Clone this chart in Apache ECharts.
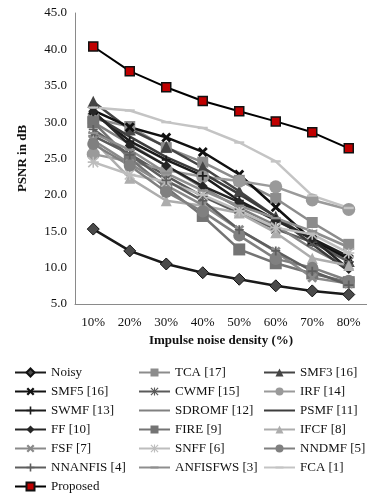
<!DOCTYPE html>
<html>
<head>
<meta charset="utf-8">
<script src="https://cdn.jsdelivr.net/npm/echarts@6/dist/echarts.min.js"></script>
<style>
  html, body { margin: 0; padding: 0; background: #fff; }
  #chart { width: 367px; height: 497px; }
</style>
</head>
<body>
<div id="chart"></div>
<script>
// noise density categories
const densities = ['10%', '20%', '30%', '40%', '50%', '60%', '70%', '80%'];

// PSNR (dB) per method
const noisy    = [15.3, 12.3, 10.5, 9.3, 8.4, 7.5, 6.8, 6.3];
const tca      = [30.5, 29.4, 26.5, 24.5, 22.0, 19.5, 16.2, 13.2];
const smf3     = [32.8, 29.0, 26.6, 23.8, 20.5, 17.0, 13.8, 10.9];
const smf5     = [31.6, 29.3, 27.9, 25.9, 22.8, 18.3, 13.8, 11.2];
const cwmf     = [28.1, 25.6, 22.6, 19.8, 17.5, 15.3, 13.5, 10.8];
const irf      = [25.6, 24.6, 23.4, 22.5, 21.9, 21.1, 19.3, 18.0];
const swmf     = [31.3, 27.4, 24.8, 22.6, 19.2, 16.6, 14.0, 11.5];
const sdromf   = [30.0, 27.0, 24.0, 21.0, 18.2, 15.8, 12.6, 10.0];
const psmf     = [31.0, 28.0, 25.2, 23.0, 20.1, 17.0, 13.2, 9.5];
const ff       = [31.5, 26.8, 24.0, 21.2, 19.0, 16.5, 14.0, 9.8];
const fire     = [30.0, 25.0, 21.0, 17.1, 12.5, 10.6, 9.2, 8.0];
const ifcf     = [27.5, 22.3, 19.2, 18.5, 17.5, 14.8, 11.3, 10.3];
const fsf      = [27.5, 24.3, 21.3, 18.6, 15.2, 12.2, 8.6, 7.8];
const snff     = [24.5, 22.8, 21.8, 20.0, 17.8, 15.5, 14.6, 12.0];
const nndmf    = [27.0, 24.0, 20.4, 17.7, 14.4, 11.2, 10.0, 8.2];
const nnanfis  = [29.0, 25.5, 22.0, 19.2, 15.2, 12.3, 9.5, 7.6];
const anfisfws = [28.5, 26.2, 23.0, 20.6, 18.5, 16.8, 15.0, 12.8];
const fca      = [32.0, 31.6, 30.0, 29.2, 27.2, 24.6, 19.9, 18.2];
const proposed = [40.4, 37.0, 34.8, 32.9, 31.5, 30.1, 28.6, 26.4];

// marker shapes
const X_MARK = 'path://M2,0 L5,3 L8,0 L10,2 L7,5 L10,8 L8,10 L5,7 L2,10 L0,8 L3,5 L0,2 Z';
const PLUS = 'path://M4,0 H6 V4 H10 V6 H6 V10 H4 V6 H0 V4 H4 Z';
const STAR = 'path://M4.3,0 H5.7 V4.3 H10 V5.7 H5.7 V10 H4.3 V5.7 H0 V4.3 H4.3 Z M1,0 L5,4 L9,0 L10,1 L6,5 L10,9 L9,10 L5,6 L1,10 L0,9 L4,5 L0,1 Z';
// the empty moveTo points keep the box square so the dash stays flat (legend too)
const DASH = 'path://M0,0 L0,0 M0,3.8 H10 V6.2 H0 Z M10,10 L10,10';
// empty box -> no marker, also keeps the legend icon a plain line
const NO_MARK = 'path://M0,0 L0,0 M10,10 L10,10';

const serif = 'Liberation Serif';

function line(name, data, color, symbol, size, extra) {
  const s = {
    name: name,
    type: 'line',
    data: data,
    symbol: symbol,
    symbolSize: size,
    lineStyle: { color: color, width: 2.5 },
    itemStyle: { color: color },
    z: 2
  };
  return Object.assign(s, extra || {});
}

const series = [
  line('Noisy', noisy, '#1a1a1a', 'diamond', 12, { itemStyle: { color: '#4a4a4a', borderColor: '#111', borderWidth: 1 } }),
  line('TCA [17]', tca, '#8c8c8c', 'rect', 11),
  line('SMF3 [16]', smf3, '#454545', 'triangle', 12),
  line('SMF5 [16]', smf5, '#111111', X_MARK, 10),
  line('CWMF [15]', cwmf, '#5a5a5a', STAR, 10),
  line('IRF [14]', irf, '#9a9a9a', 'circle', 13),
  line('SWMF [13]', swmf, '#1c1c1c', PLUS, 9),
  line('SDROMF [12]', sdromf, '#808080', NO_MARK, 8),
  line('PSMF [11]', psmf, '#3c3c3c', NO_MARK, 8),
  line('FF [10]', ff, '#262626', 'diamond', 10),
  line('FIRE [9]', fire, '#747474', 'rect', 12),
  line('IFCF [8]', ifcf, '#adadad', 'triangle', 11),
  line('FSF [7]', fsf, '#8a8a8a', X_MARK, 10),
  line('SNFF [6]', snff, '#bdbdbd', STAR, 11),
  line('NNDMF [5]', nndmf, '#808080', 'circle', 12),
  line('NNANFIS [4]', nnanfis, '#5e5e5e', PLUS, 9),
  line('ANFISFWS [3]', anfisfws, '#8e8e8e', DASH, 10),
  line('FCA [1]', fca, '#c4c4c4', DASH, 10),
  line('Proposed', proposed, '#000000', 'rect', 9, {
    lineStyle: { color: '#000', width: 2 },
    itemStyle: { color: '#c00000', borderColor: '#111', borderWidth: 1.5 },
    z: 5
  })
];

function legendCol(names, left) {
  return {
    data: names,
    orient: 'vertical',
    left: left,
    top: 366,
    itemWidth: 31,
    itemHeight: 10,
    itemGap: 6,
    padding: 0,
    textStyle: { fontFamily: serif, fontSize: 13, color: '#111' }
  };
}

const chart = echarts.init(document.getElementById('chart'), null, { renderer: 'canvas' });

chart.setOption({
  animation: false,
  backgroundColor: '#fff',
  grid: { left: 75, top: 13, width: 296, height: 291 },
  xAxis: {
    type: 'category',
    data: densities,
    boundaryGap: true,
    name: 'Impulse noise density (%)',
    nameLocation: 'middle',
    nameGap: 29,
    nameTextStyle: { fontFamily: serif, fontSize: 13, fontWeight: 'bold', color: '#111' },
    axisLine: { lineStyle: { color: '#8a8a8a', width: 1 } },
    axisTick: { show: false },
    axisLabel: { fontFamily: serif, fontSize: 13, color: '#111', margin: 12 }
  },
  yAxis: {
    type: 'value',
    min: 5,
    max: 45,
    interval: 5,
    name: 'PSNR in dB',
    nameLocation: 'middle',
    nameGap: 46,
    nameTextStyle: { fontFamily: serif, fontSize: 13, fontWeight: 'bold', color: '#111' },
    axisLine: { show: true, lineStyle: { color: '#8a8a8a', width: 1 } },
    axisTick: { show: false },
    splitLine: { show: false },
    axisLabel: {
      fontFamily: serif, fontSize: 13, color: '#111', margin: 8,
      formatter: function (v) { return v.toFixed(1); }
    }
  },
  legend: [
    legendCol(['Noisy', 'SMF5 [16]', 'SWMF [13]', 'FF [10]', 'FSF [7]', 'NNANFIS [4]', 'Proposed'], 14),
    legendCol(['TCA [17]', 'CWMF [15]', 'SDROMF [12]', 'FIRE [9]', 'SNFF [6]', 'ANFISFWS [3]'], 138),
    legendCol(['SMF3 [16]', 'IRF [14]', 'PSMF [11]', 'IFCF [8]', 'NNDMF [5]', 'FCA [1]'], 263)
  ],
  series: series
});
</script>
</body>
</html>
